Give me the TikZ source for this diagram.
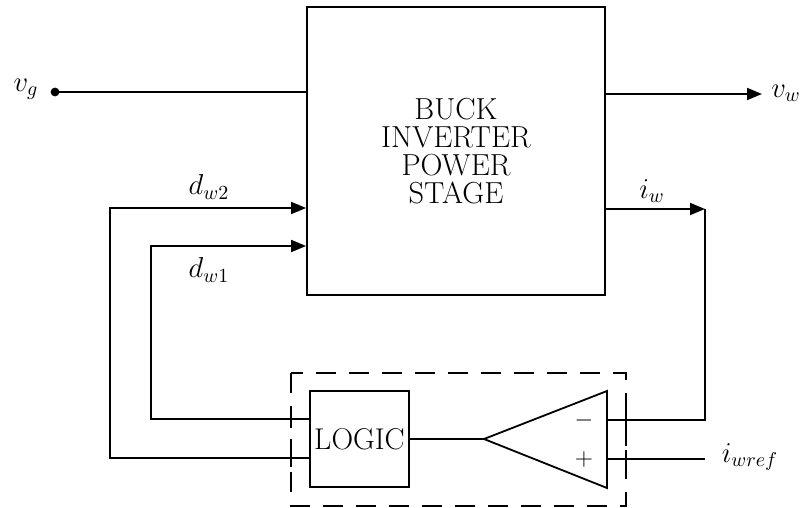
\documentclass[tikz,border=0pt]{standalone}
\usetikzlibrary{arrows.meta}
\begin{document}
\begin{tikzpicture}[x=0.5pt,y=-0.5pt,line width=0.9pt,
  >={Triangle[length=7.5pt,width=6pt]},
  lbl/.style={font=\Large},
  blk/.style={draw,inner sep=0pt,align=center},
  frame/.style={line width=0.9pt,dash pattern=on 10pt off 6.5pt}]
\useasboundingbox (0,0) rectangle (803,508);
% blocks
\node[blk,minimum width=149pt,minimum height=144pt,font=\fontsize{15.2}{14}\selectfont] (stage) at (456,151) {BUCK\\INVERTER\\POWER\\STAGE};
\node[blk,minimum width=49.5pt,minimum height=48pt,font=\fontsize{15}{15}\selectfont] (logic) at (359.5,439) {LOGIC};
\coordinate (cmpapex) at (484,439);
\coordinate (cmptop) at (607,391);
\coordinate (cmpbot) at (607,488);
\coordinate (cmpminus) at (607,420);
\coordinate (cmpplus) at (607,459);
\draw (cmpapex) -- (cmptop) -- (cmpbot) -- cycle;
\node[font=\large] (minus) at (584,420) {$-$};
\node[font=\large] (plus) at (584,459) {$+$};
\draw[frame] (291,373) rectangle (626,506);
\foreach \tx/\ty in {291/419,291/458,626/420,626/459}
  \draw (\tx,\ty-9) -- (\tx,\ty+9);
% corners
\coordinate (vgdot) at (55,92);
\coordinate (vwend) at (762,94);
\coordinate (dtwo) at (110,208);
\coordinate (done) at (151,246);
\coordinate (iwc) at (705,209);
\coordinate (iwrefend) at (705,459);
% signals
\fill (vgdot) circle (2.2pt);
\draw (vgdot) -- (vgdot -| stage.west);
\draw[->] (stage.east |- vwend) -- (vwend);
\draw[->] (logic.west |- 0,458) -| (dtwo) -- (stage.west |- dtwo);
\draw[->] (logic.west |- 0,419) -| (done) -- (stage.west |- done);
\draw[->] (stage.east |- iwc) -- (iwc);
\draw (iwc) |- (cmpminus);
\draw (cmpplus) -- (iwrefend);
\draw (logic.east) -- (cmpapex);
% labels
\node[lbl] (vg) at (26,89) {$v_g$};
\node[lbl] (vw) at (786,93) {$v_w$};
\node[lbl] (dw2) at (209,187) {$d_{w2}$};
\node[lbl] (dw1) at (209,270) {$d_{w1}$};
\node[lbl] (iw) at (652,191) {$i_w$};
\node[lbl] (iwref) at (750,457) {$i_{wref}$};
\end{tikzpicture}
\end{document}
